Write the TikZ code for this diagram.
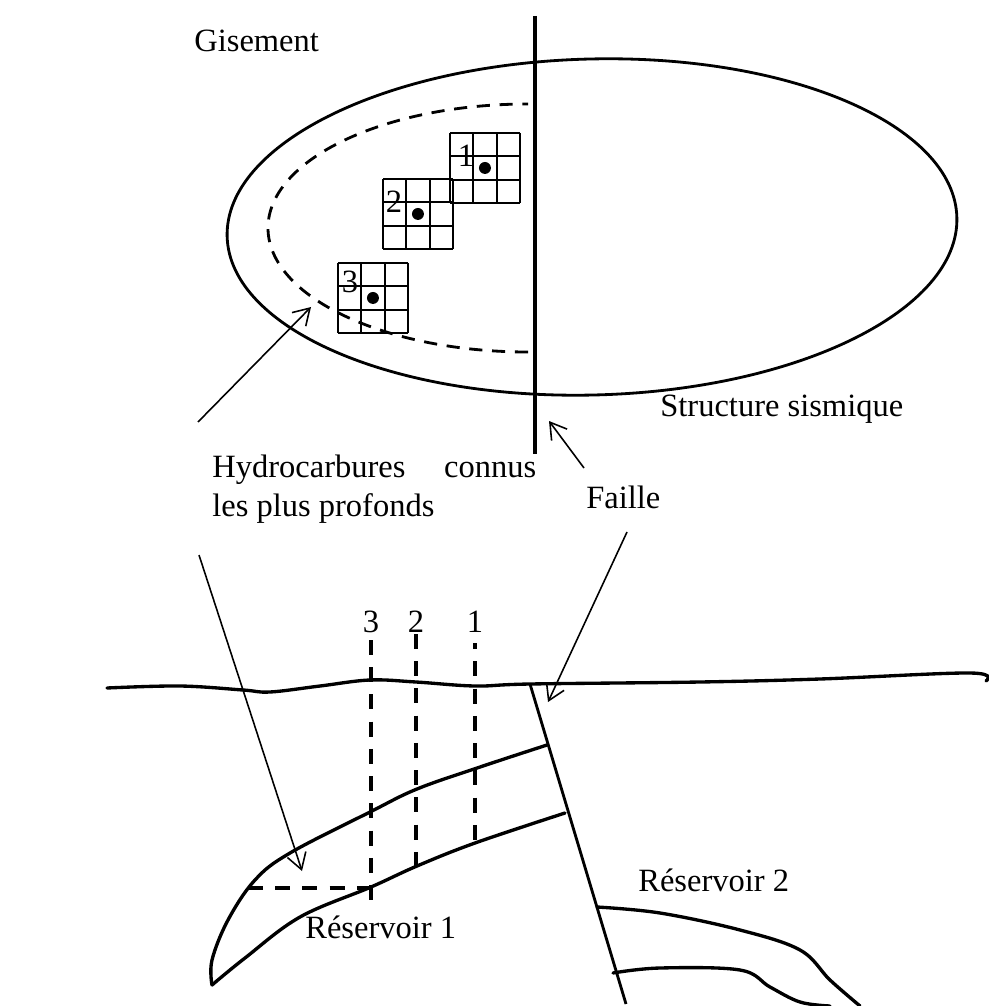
\documentclass[tikz,border=0pt]{standalone}
\usepackage{fontspec}
\setmainfont{Liberation Serif}
\usetikzlibrary{arrows.meta}

\tikzset{
  txt/.style={inner sep=0pt, font=\fontsize{18.5}{22}\selectfont},
  contour/.style={line width=1.6pt},
  limite/.style={line width=1.6pt, dash pattern=on 7.5pt off 5.5pt},
  maille/.style={line width=1.2pt},
  pointeur/.style={line width=0.9pt, -{Straight Barb[length=9pt,width=11pt]}},
  couche/.style={line width=1.9pt, line join=round, line cap=round},
  puits/.style={line width=1.9pt, dash pattern=on 8.5pt off 7pt},
}

% 3x3 block of cells with the well in its centre
\newcommand{\maillage}[2]{%
  \foreach \k in {0,...,3}{
    \draw[maille] (#1+\k*23.3,#2) -- (#1+\k*23.3,#2+69.9);
    \draw[maille] (#1,#2+\k*23.3) -- (#1+69.9,#2+\k*23.3);
  }
  \fill (#1+34.95,#2+34.95) circle[radius=3.4pt];
}

\begin{document}
\begin{tikzpicture}[x=0.02cm, y=-0.02cm]
			%%%%% START %%%%%
			\useasboundingbox (0,0) rectangle (988,1006);
			
			%% plan view
			\draw[contour, rotate around={1.5:(592,227)}] (592,227) ellipse[x radius=365, y radius=168];
			\draw[limite] (528,352) arc[start angle=90, end angle=270, x radius=260, y radius=124];
			\draw[line width=2.6pt] (535,16) -- (535,454);
			
			\maillage{450}{133}
			\maillage{383}{179}
			\maillage{338}{263}
			\node[txt] (p1) at (466,156) {1};
			\node[txt] (p2) at (394,202) {2};
			\node[txt] (p3) at (350,282) {3};
			
			\node[txt, anchor=base west] (gis) at (194,52) {Gisement};
			\node[txt, anchor=base west] (sism) at (660,416) {Structure sismique};
			\node[txt, anchor=base west, align=left] (hydro) at (212,516)
			  {Hydrocarbures\hspace{22pt}connus\\les plus profonds};
			\node[txt, anchor=base west] (faille) at (586,508) {Faille};
			
			\coordinate (h1) at (198,422);
			\coordinate (h1b) at (311,307);
			\coordinate (f1) at (584,468);
			\coordinate (f1b) at (549,421);
			\draw[pointeur] (h1) -- (h1b);
			\draw[pointeur] (f1) -- (f1b);
			
			%% cross-section
			\draw[couche] plot[smooth, tension=0.6] coordinates {(107,688) (180,686) (243,690) (270,692) (320,686) (370,680) (416,682) (475,686) (530,684) (700,682) (820,679) (970,673) (986,681)};
			\draw[line width=1.6pt] (530,684) -- (626,1004);
			
			% reservoir 1
			\draw[couche] plot[smooth, tension=0.6] coordinates {(547,745) (480,767) (417,789) (370,812) (290,853) (255,880) (228,920) (212,960) (212,985)};
			\draw[couche] plot[smooth, tension=0.6] coordinates {(212,985) (245,958) (300,917) (371,887) (417,866) (475,843) (565,813)};
			\draw[puits] (248,888) -- (371,888);
			
			% reservoir 2
			\draw[couche] plot[smooth, tension=0.6] coordinates {(597,907) (660,913) (740,930) (800,950) (830,980) (860,1006)};
			\draw[couche] plot[smooth, tension=0.6] coordinates {(613,973) (660,968) (740,970) (770,987) (800,1002) (830,1006)};
			
			% wells
			\draw[puits] (371,640) -- (371,905);
			\draw[puits] (416,634) -- (416,867);
			\draw[puits, dash phase=5pt] (475,643) -- (475,843);
			\node[txt, anchor=base] (w3) at (371,632) {3};
			\node[txt, anchor=base] (w2) at (416,632) {2};
			\node[txt, anchor=base] (w1) at (475,632) {1};
			
			\node[txt, anchor=base west] (res2) at (638,891) {Réservoir 2};
			\node[txt, anchor=base west] (res1) at (305,938) {Réservoir 1};
			
			\coordinate (h2) at (199,555);
			\coordinate (h2b) at (302,871);
			\coordinate (f2) at (627,532);
			\coordinate (f2b) at (548,702);
			\draw[pointeur] (h2) -- (h2b);
			\draw[pointeur] (f2) -- (f2b);
			%%%%% END %%%%%
		\end{tikzpicture}
\end{document}
